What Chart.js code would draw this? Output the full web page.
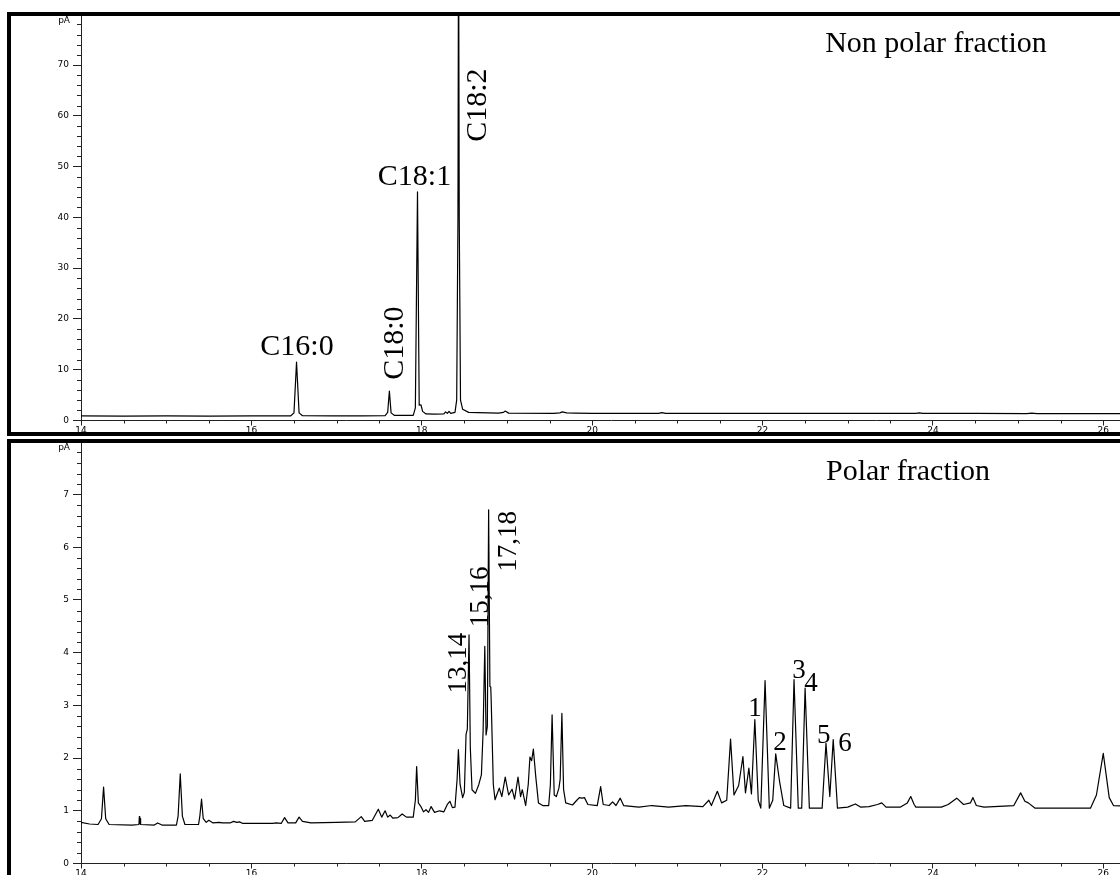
<!DOCTYPE html>
<html><head><meta charset="utf-8">
<script src="https://cdn.jsdelivr.net/npm/chart.js@4.4.1/dist/chart.umd.min.js"></script>
<style>
html,body{margin:0;padding:0;background:#fff;overflow:hidden;width:1120px;height:875px;}
.panel{position:absolute;left:7px;width:1300px;border:4px solid #000;overflow:hidden;background:#fff;}
#p1{top:12px;height:416px;}
#p2{top:439px;height:600px;}
canvas{position:absolute;left:0;top:0;}
</style></head><body>
<div class="panel" id="p1"><canvas id="c1" width="1130" height="416"></canvas></div>
<div class="panel" id="p2"><canvas id="c2" width="1130" height="432"></canvas></div>
<script>
// ---------- data ----------
const xTickValues = [14,16,18,20,22,24,26];
const npYTicks = [0,10,20,30,40,50,60,70];
const pYTicks = [0,1,2,3,4,5,6,7];

// Non polar fraction: retention time (min) and signal (pA)
const npTime = [
14.00,14.50,15.00,15.50,16.00,16.46,16.50,16.53,16.56,16.60,
16.95,17.30,17.57,17.60,17.62,17.64,17.68,17.90,17.925,17.95,
17.97,17.99,18.01,18.05,18.15,18.26,18.28,18.30,18.32,18.34,
18.39,18.41,18.425,18.432,18.44,18.455,18.48,18.55,18.90,18.96,
18.98,19.02,19.55,19.62,19.65,19.70,19.80,20.00,20.78,20.82,
20.86,22.00,23.00,23.80,23.84,23.88,24.50,25.10,25.16,25.22,
26.44];
const npSignal = [
0.90,0.88,0.90,0.88,0.90,0.90,1.5,11.5,1.5,0.95,
0.92,0.92,0.95,1.6,5.8,1.5,1.0,1.0,2.5,45,
3.0,3.1,1.8,1.3,1.25,1.3,1.7,1.4,1.8,1.4,
1.6,4,40,100,40,4,2.2,1.6,1.45,1.6,
1.85,1.45,1.4,1.5,1.7,1.5,1.45,1.4,1.4,1.55,
1.42,1.4,1.4,1.4,1.5,1.4,1.4,1.35,1.45,1.35,
1.35];

// Polar fraction
const pTime = [
14.00,14.10,14.20,14.24,14.265,14.29,14.33,14.60,14.68,14.685,
14.69,14.695,14.70,14.86,14.90,14.95,15.12,15.14,15.165,15.19,
15.22,15.38,15.395,15.415,15.435,15.47,15.50,15.55,15.62,15.66,
15.75,15.79,15.83,15.86,15.90,16.25,16.29,16.35,16.39,16.43,
16.52,16.56,16.60,16.70,17.00,17.22,17.29,17.33,17.42,17.49,
17.53,17.57,17.60,17.63,17.66,17.72,17.77,17.82,17.90,17.925,
17.94,17.96,17.99,18.02,18.05,18.08,18.11,18.15,18.21,18.26,
18.30,18.33,18.36,18.39,18.415,18.43,18.45,18.48,18.50,18.52,
18.535,18.555,18.57,18.59,18.63,18.67,18.70,18.72,18.74,18.755,
18.77,18.785,18.80,18.81,18.815,18.84,18.86,18.88,18.91,18.94,
18.98,19.02,19.06,19.09,19.13,19.16,19.18,19.22,19.25,19.27,
19.29,19.31,19.34,19.37,19.42,19.49,19.51,19.53,19.555,19.58,
19.61,19.625,19.645,19.665,19.69,19.77,19.82,19.85,19.88,19.91,
19.95,20.06,20.10,20.13,20.20,20.24,20.28,20.33,20.37,20.55,
20.70,20.90,21.10,21.30,21.37,21.40,21.47,21.52,21.58,21.625,
21.665,21.72,21.77,21.80,21.84,21.87,21.91,21.95,21.98,22.03,
22.08,22.12,22.155,22.20,22.25,22.33,22.37,22.42,22.46,22.50,
22.55,22.70,22.745,22.79,22.83,22.88,23.00,23.09,23.15,23.25,
23.35,23.40,23.45,23.62,23.70,23.74,23.78,23.80,24.10,24.18,
24.28,24.36,24.44,24.47,24.51,24.60,24.95,25.03,25.08,25.12,
25.20,25.85,25.92,26.00,26.07,26.12,26.44];
const pSignal = [
0.78,0.75,0.74,0.85,1.45,0.85,0.74,0.73,0.74,0.89,
0.76,0.85,0.74,0.73,0.77,0.73,0.73,0.90,1.70,0.90,
0.74,0.74,0.90,1.22,0.85,0.78,0.82,0.77,0.78,0.77,
0.77,0.80,0.78,0.79,0.76,0.76,0.77,0.76,0.87,0.77,
0.77,0.88,0.80,0.77,0.78,0.79,0.89,0.80,0.82,1.03,
0.88,1.00,0.88,0.92,0.86,0.87,0.94,0.88,0.88,1.20,
1.84,1.15,1.08,0.98,1.02,0.97,1.08,0.97,1.00,0.98,
1.12,1.18,1.06,1.07,1.60,2.16,1.50,1.25,1.35,2.45,
2.55,4.34,2.20,1.40,1.33,1.50,1.68,2.50,4.12,2.44,
2.60,6.71,3.36,3.35,3.10,1.50,1.21,1.30,1.43,1.27,
1.64,1.30,1.41,1.22,1.64,1.27,1.40,1.10,1.50,2.02,
1.95,2.17,1.62,1.15,1.10,1.10,1.50,2.82,1.30,1.27,
1.43,1.60,2.85,1.40,1.15,1.11,1.20,1.25,1.24,1.25,
1.12,1.10,1.46,1.12,1.10,1.17,1.10,1.24,1.10,1.07,
1.10,1.07,1.10,1.08,1.20,1.10,1.37,1.15,1.20,2.36,
1.30,1.48,2.03,1.34,1.81,1.32,2.73,1.20,1.05,3.47,
1.05,1.20,2.08,1.56,1.10,1.05,3.49,1.05,1.05,3.33,
1.05,1.05,2.28,1.27,2.35,1.05,1.07,1.13,1.07,1.08,
1.12,1.15,1.07,1.07,1.15,1.27,1.12,1.07,1.07,1.12,
1.24,1.12,1.15,1.25,1.10,1.07,1.10,1.34,1.18,1.15,
1.05,1.05,1.30,2.09,1.25,1.10,1.08];

// annotations (anchored in data coordinates)
const npLabelText = ['C16:0','C18:0','C18:1','C18:2','Non polar fraction'];
const npLabelX = [16.535,17.686,17.915,18.657,24.036];
const npLabelY = [14.47,15.25,47.98,62.09,74.1];
const pLabelText = ['13,14','15,16','17,18','1','2','3','4','5','6','Polar fraction'];
const pLabelX = [18.437,18.695,19.024,21.912,22.205,22.428,22.569,22.718,22.968,23.708];
const pLabelY = [3.80,5.06,6.11,2.93,2.29,3.66,3.41,2.42,2.27,7.43];

if (npTime.length !== npSignal.length) throw new Error('np mismatch '+npTime.length+' '+npSignal.length);
if (pTime.length !== pSignal.length) throw new Error('p mismatch '+pTime.length+' '+pSignal.length);

// ---------- drawing ----------
const AXIS = '#222';
const TICK_FONT = {family:'DejaVu Sans', size:9};
const VERTICAL = new Set(['C18:0','C18:2','13,14','15,16','17,18']);
Chart.defaults.font.family = 'DejaVu Sans';

function decorPlugin(cfg){
  return {
    id:'decor',
    afterDatasetsDraw(chart){
      const ctx = chart.ctx, ca = chart.chartArea, xs = chart.scales.x, ys = chart.scales.y;
      ctx.save();
      ctx.strokeStyle = AXIS; ctx.lineWidth = 1;
      ctx.beginPath();
      for (let i = 0; ; i++) {
        const v = xs.min + i*0.5;
        if (v > xs.max + 1e-9) break;
        if (Math.abs(v/2 - Math.round(v/2)) < 1e-6) continue;
        const x = Math.round(xs.getPixelForValue(v)) + 0.5;
        ctx.moveTo(x, ca.bottom); ctx.lineTo(x, ca.bottom + 3);
      }
      for (let i = 0; ; i++) {
        const v = i*cfg.yMinor;
        if (v > ys.max + 1e-9) break;
        if (Math.abs(v/cfg.yMajor - Math.round(v/cfg.yMajor)) < 1e-6) continue;
        const y = Math.round(ys.getPixelForValue(v)) + 0.5;
        ctx.moveTo(ca.left - 4, y); ctx.lineTo(ca.left, y);
      }
      ctx.stroke();
      ctx.fillStyle = '#000';
      ctx.font = '9px "DejaVu Sans"';
      ctx.textAlign = 'right'; ctx.textBaseline = 'middle';
      ctx.fillText('pA', ca.left - 11, ca.top + 4.5);
      cfg.text.forEach((t, i) => {
        const px = xs.getPixelForValue(cfg.tx[i]);
        const py = ys.getPixelForValue(cfg.ty[i]);
        const size = /^C|fraction/.test(t) ? 30 : 27;
        ctx.font = size + 'px "Liberation Serif", "Times New Roman", serif';
        ctx.textAlign = 'center'; ctx.textBaseline = 'middle';
        ctx.save();
        ctx.translate(px, py);
        if (VERTICAL.has(t)) ctx.rotate(-Math.PI/2);
        ctx.fillText(t, 0, 0);
        ctx.restore();
      });
      ctx.restore();
    }
  };
}

function makeChart(id, time, signal, yMax, yTicks, yMinor, yMajor, xAxisH, text, tx, ty){
  const pts = time.map((t, i) => ({x:t, y:signal[i]}));
  return new Chart(document.getElementById(id), {
    type:'line',
    data:{datasets:[{data:pts, borderColor:'#000', borderWidth:1.2, pointRadius:0,
      tension:0, fill:false, borderJoinStyle:'round'}]},
    options:{
      responsive:false, animation:false, devicePixelRatio:1,
      layout:{padding:0},
      plugins:{legend:{display:false}, tooltip:{enabled:false}, title:{display:false}},
      scales:{
        x:{type:'linear', min:14, max:26.443,
          afterBuildTicks:s => { s.ticks = xTickValues.map(v => ({value:v})); },
          afterFit:s => { s.height = xAxisH; s.paddingLeft = 0; s.paddingRight = 0; },
          grid:{display:true, drawOnChartArea:false, drawTicks:true, tickLength:5, color:AXIS, lineWidth:1},
          border:{display:true, color:AXIS, width:1},
          ticks:{font:TICK_FONT, color:'#000', padding:0, autoSkip:false, maxRotation:0, minRotation:0}
        },
        y:{type:'linear', min:0, max:yMax,
          afterBuildTicks:s => { s.ticks = yTicks.map(v => ({value:v})); },
          afterFit:s => { s.width = 70; s.paddingTop = 0; s.paddingBottom = 0; },
          grid:{display:true, drawOnChartArea:false, drawTicks:true, tickLength:8, color:AXIS, lineWidth:1},
          border:{display:true, color:AXIS, width:1},
          ticks:{font:TICK_FONT, color:'#000', padding:4, autoSkip:false}
        }
      }
    },
    plugins:[decorPlugin({yMinor, yMajor, text, tx, ty})]
  });
}

makeChart('c1', npTime, npSignal, 79.65, npYTicks, 2, 10, 11.5, npLabelText, npLabelX, npLabelY);
makeChart('c2', pTime, pSignal, 7.979, pYTicks, 0.2, 1, 11.5, pLabelText, pLabelX, pLabelY);
</script>
</body></html>
